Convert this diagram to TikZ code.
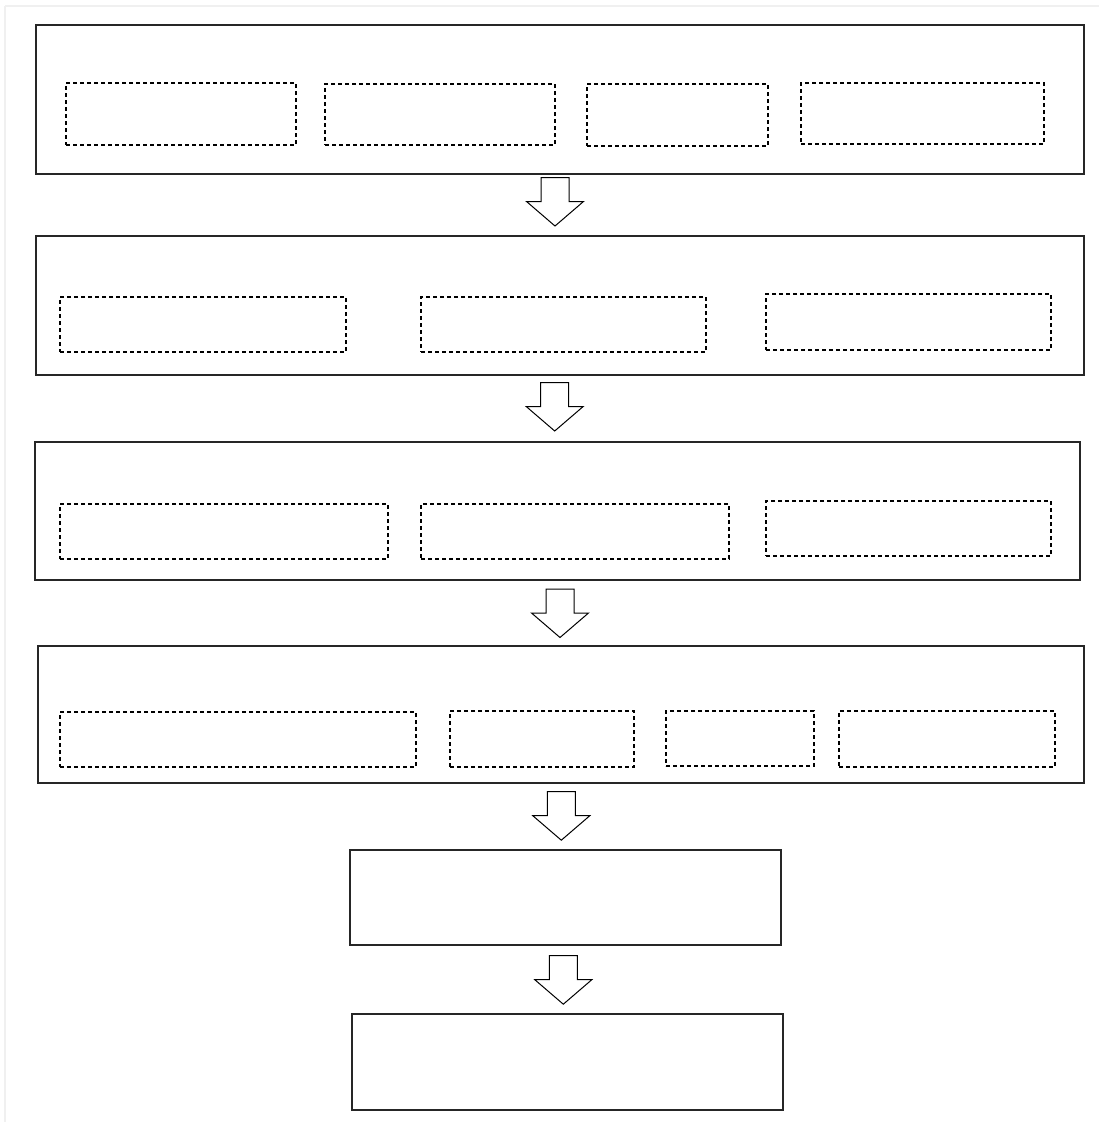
\documentclass[tikz,border=0pt]{standalone}
\tikzset{
  solidbox/.style={draw=black!85, line width=1.2pt, rectangle, inner sep=0pt, fill=white},
  dashbox/.style={draw=black, line width=1.2pt, dash pattern=on 4pt off 3pt, rectangle, inner sep=0pt},
  blockarrow/.style={draw=black, line width=1pt, fill=white, line join=miter},
  frameline/.style={draw=black!6, line width=2pt}
}
\newcommand\mkbox[6]{\node[#1, minimum width={#5-#3}, minimum height={#6-#4}] (#2) at ({(#3+#5)/2},{(#4+#6)/2}) {};}
\newcommand\mkarrow[3]{%
  \coordinate (#1) at (#2,#3);
  \draw[blockarrow] ([xshift=-14pt]#1) -- ++(28,0) -- ++(0,24) -- ++(14.5,0) -- ++(-28.5,24.5) -- ++(-28.5,-24.5) -- ++(14.5,0) -- cycle;}
\begin{document}
\begin{tikzpicture}[x=1pt,y=-1pt]
\useasboundingbox (0,0) rectangle (1099,1122);
\fill[white] (0,0) rectangle (1099,1122);
\draw[frameline] (5,6) -- (1099,6);
\draw[frameline] (5,6) -- (5,1122);

% row 1
\mkbox{solidbox}{b1}{36}{25}{1084}{174}
\mkbox{dashbox}{b1a}{66}{83}{296}{145}
\mkbox{dashbox}{b1b}{325}{84}{555}{145}
\mkbox{dashbox}{b1c}{587}{84}{768}{146}
\mkbox{dashbox}{b1d}{801}{83}{1044}{144}
\mkarrow{a1}{555}{177.5}

% row 2
\mkbox{solidbox}{b2}{36}{236}{1084}{375}
\mkbox{dashbox}{b2a}{60}{297}{346}{352}
\mkbox{dashbox}{b2b}{421}{297}{706}{352}
\mkbox{dashbox}{b2c}{766}{294}{1051}{350}
\mkarrow{a2}{554.7}{382.5}

% row 3
\mkbox{solidbox}{b3}{35}{442}{1080}{580}
\mkbox{dashbox}{b3a}{60}{504}{388}{559}
\mkbox{dashbox}{b3b}{421}{504}{729}{559}
\mkbox{dashbox}{b3c}{766}{501}{1051}{556}
\mkarrow{a3}{560}{589}

% row 4
\mkbox{solidbox}{b4}{38}{646}{1084}{783}
\mkbox{dashbox}{b4a}{60}{712}{416}{767}
\mkbox{dashbox}{b4b}{450}{711}{634}{767}
\mkbox{dashbox}{b4c}{666}{711}{814}{766}
\mkbox{dashbox}{b4d}{839}{711}{1055}{767}
\mkarrow{a4}{561.3}{791.7}

% row 5
\mkbox{solidbox}{b5}{350}{850}{781}{945}
\mkarrow{a5}{563.3}{955.7}

% row 6
\mkbox{solidbox}{b6}{352}{1014}{783}{1110}
\end{tikzpicture}
\end{document}
